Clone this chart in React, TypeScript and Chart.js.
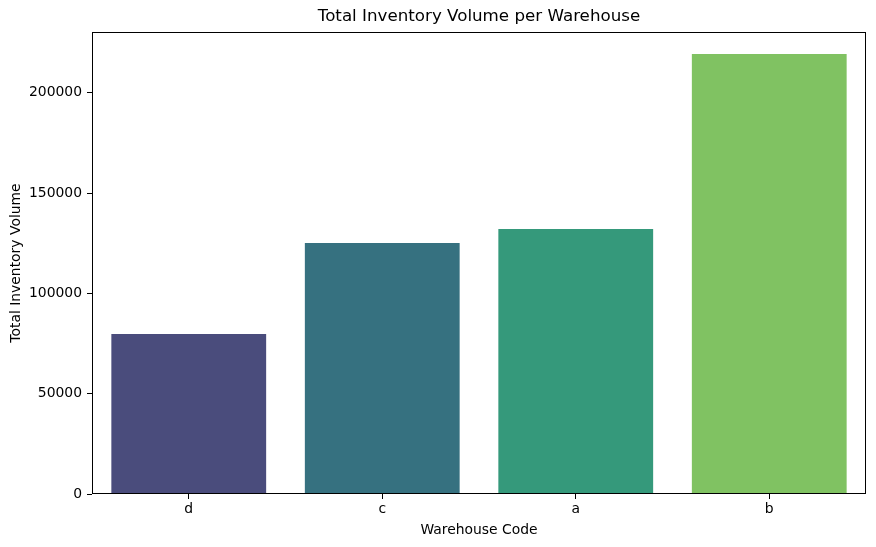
import React, { useEffect, useRef } from "react";
import { Chart, registerables } from "chart.js";

Chart.register(...registerables);

const categories = ["d", "c", "a", "b"];
const volumes = [79800, 125100, 132100, 219300];
const barColors = ["#4a4c7c", "#367180", "#35997b", "#80c262"];
const yTicks = [0, 50000, 100000, 150000, 200000];
const yMax = 230300;

const FONT = "'DejaVu Sans', sans-serif";
const LABEL_SIZE = 13.9;
const TITLE_SIZE = 16.7;

const framePlugin = {
  id: "frame",
  afterDatasetsDraw(chart: any) {
    const { ctx, chartArea } = chart;
    ctx.save();
    ctx.strokeStyle = "#000";
    ctx.lineWidth = 1;
    ctx.strokeRect(
      Math.round(chartArea.left) + 0.5,
      Math.round(chartArea.top) + 0.5,
      Math.round(chartArea.right - chartArea.left) - 1,
      Math.round(chartArea.bottom - chartArea.top) - 1
    );
    ctx.restore();
  },
};

export default function App() {
  const ref = useRef<HTMLCanvasElement | null>(null);
  useEffect(() => {
    if (!ref.current) return;
    const chart = new Chart(ref.current, {
      type: "bar",
      data: {
        labels: categories,
        datasets: [
          {
            label: "Total Inventory Volume",
            data: volumes,
            backgroundColor: barColors,
            borderWidth: 0,
            barPercentage: 0.8,
            categoryPercentage: 1.0,
          },
        ],
      },
      options: {
        animation: false,
        responsive: false,
        maintainAspectRatio: false,
        layout: { padding: { left: 0, right: 10, top: 0, bottom: 0 } },
        plugins: {
          legend: { display: false },
          tooltip: { enabled: false },
          title: {
            display: true,
            fullSize: false,
            text: "Total Inventory Volume per Warehouse",
            color: "#000",
            font: { family: FONT, size: TITLE_SIZE, weight: "normal", lineHeight: 1.2 },
            padding: { top: 7, bottom: 5 },
          },
        },
        scales: {
          x: {
            offset: true,
            grid: {
              display: true,
              drawOnChartArea: false,
              drawTicks: true,
              tickLength: 5,
              color: "#000",
              offset: false,
            },
            border: { display: false },
            ticks: {
              color: "#000",
              font: { family: FONT, size: LABEL_SIZE },
              padding: 2,
            },
            title: {
              display: true,
              text: "Warehouse Code",
              color: "#000",
              font: { family: FONT, size: LABEL_SIZE, lineHeight: 1.2 },
              padding: { top: 0, bottom: 8.7 },
            },
            afterFit(scale: any) {
              scale.height = 53;
            },
          },
          y: {
            min: 0,
            max: yMax,
            grid: {
              display: true,
              drawOnChartArea: false,
              drawTicks: true,
              tickLength: 5,
              color: "#000",
            },
            border: { display: false },
            ticks: {
              color: "#000",
              font: { family: FONT, size: LABEL_SIZE },
              padding: 5,
              callback: (v: any) => String(v),
            },
            afterBuildTicks(scale: any) {
              scale.ticks = yTicks.map((v) => ({ value: v }));
            },
            title: {
              display: true,
              text: "Total Inventory Volume",
              color: "#000",
              font: { family: FONT, size: LABEL_SIZE, lineHeight: 1.2 },
              padding: { top: 7.7, bottom: 0 },
            },
            afterFit(scale: any) {
              scale.width = 92;
            },
          },
        },
      },
      plugins: [framePlugin],
    });
    return () => chart.destroy();
  }, []);

  return (
    <div style={{ position: "fixed", left: 0, top: 0, width: 876, height: 547, background: "#fff" }}>
      <canvas ref={ref} width={876} height={547} style={{ width: 876, height: 547 }} />
    </div>
  );
}
